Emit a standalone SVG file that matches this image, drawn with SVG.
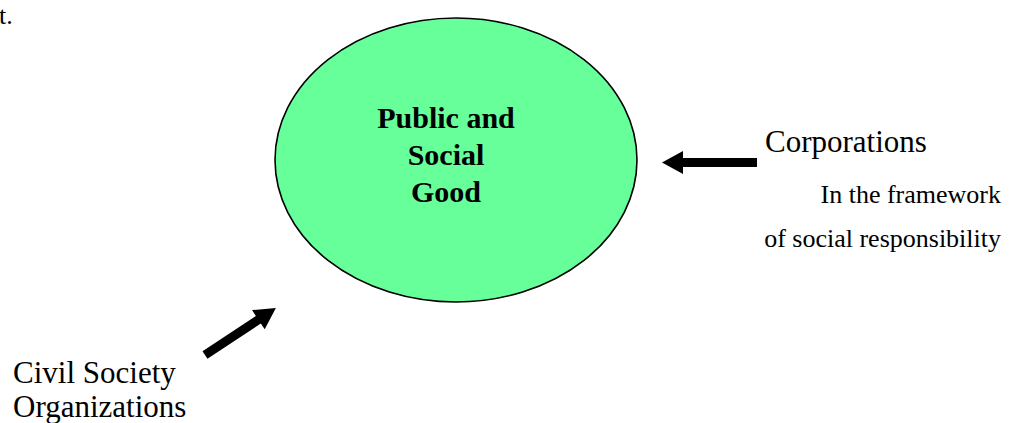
<svg xmlns="http://www.w3.org/2000/svg" width="1016" height="423" viewBox="0 0 1016 423">
  <style>
    .serif { font-family: "Liberation Serif", "Times New Roman", serif; fill: #000; }
    .big { font-size: 31px; }
    .small { font-size: 26px; }
    .center { font-size: 30px; font-weight: bold; text-anchor: middle; }
    .arrow { fill: #000; stroke: none; }
  </style>
  <rect width="1016" height="423" fill="#ffffff"/>

  <!-- trailing fragment of preceding text -->
  <text class="serif small" x="-1" y="24">t.</text>

  <!-- central node -->
  <g id="public-social-good">
    <ellipse cx="456" cy="160" rx="181" ry="142" fill="#66FF99" stroke="#000" stroke-width="1.6"/>
    <text class="serif center" x="446" y="128">Public and</text>
    <text class="serif center" x="446" y="165">Social</text>
    <text class="serif center" x="446" y="202">Good</text>
  </g>

  <!-- contributors -->
  <g id="corporations">
    <text class="serif big" x="765" y="152">Corporations</text>
    <text class="serif small" x="1001" y="203" text-anchor="end">In the framework</text>
    <text class="serif small" x="1001" y="247" text-anchor="end">of social responsibility</text>
  </g>

  <g id="civil-society">
    <text class="serif big" x="13" y="383">Civil Society</text>
    <text class="serif big" x="13" y="417">Organizations</text>
  </g>

  <!-- block arrows pointing at the central node -->
  <g id="connectors">
    <polygon class="arrow" transform="translate(757,162.5) rotate(180)" points="0,-4.5 74,-4.5 74,-11.5 95,0 74,11.5 74,4.5 0,4.5"/>
    <polygon class="arrow" transform="translate(205,355) rotate(-33.5)" points="0,-4.5 64,-4.5 64,-11.5 85,0 64,11.5 64,4.5 0,4.5"/>
  </g>
</svg>
